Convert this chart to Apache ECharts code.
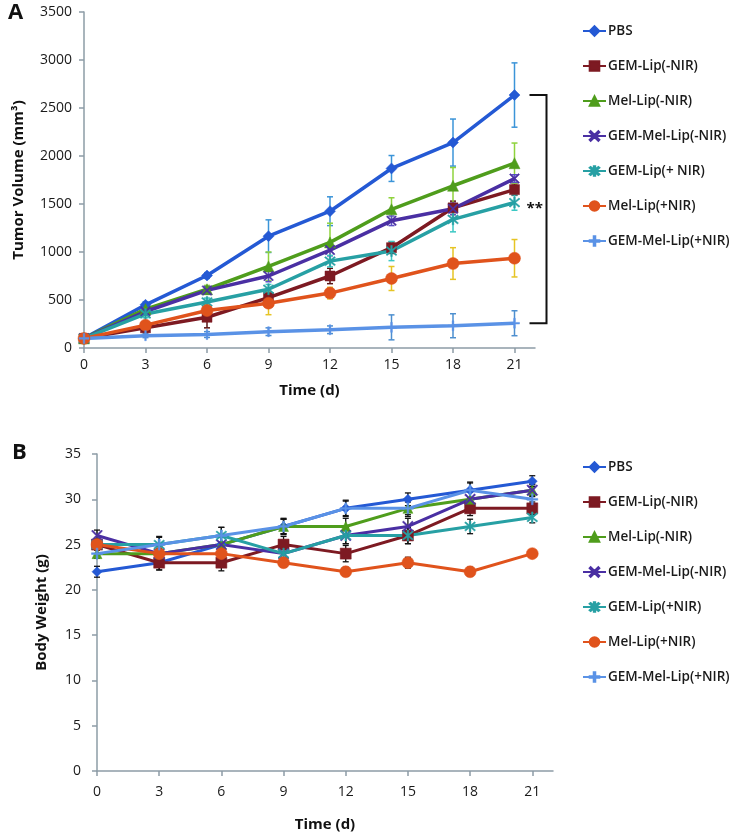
<!DOCTYPE html>
<html>
<head>
<meta charset="utf-8">
<script src="https://cdn.jsdelivr.net/npm/echarts@6/dist/echarts.min.js"></script>
<style>
  html, body { margin: 0; padding: 0; background: #fff; }
  #chartA { width: 740px; height: 418px; }
  #chartB { width: 740px; height: 419px; }
</style>
</head>
<body>
<div id="chartA"></div>
<div id="chartB"></div>
<script>
  // shared
  const days = [0, 3, 6, 9, 12, 15, 18, 21]
  const seriesNames = ['PBS', 'GEM-Lip(-NIR)', 'Mel-Lip(-NIR)', 'GEM-Mel-Lip(-NIR)', 'GEM-Lip(+NIR)', 'Mel-Lip(+NIR)', 'GEM-Mel-Lip(+NIR)']
  const legendLabelsA = ['PBS', 'GEM-Lip(-NIR)', 'Mel-Lip(-NIR)', 'GEM-Mel-Lip(-NIR)', 'GEM-Lip(+ NIR)', 'Mel-Lip(+NIR)', 'GEM-Mel-Lip(+NIR)']
  const xTicks = [0, 3, 6, 9, 12, 15, 18, 21]

  // panel A: tumor volume (mm3)
  const volPBS = [100, 450, 755, 1165, 1425, 1870, 2140, 2635]
  const volGemLip = [100, 210, 320, 525, 750, 1045, 1460, 1650]
  const volMelLip = [100, 405, 612, 850, 1100, 1445, 1690, 1925]
  const volGemMelLip = [100, 380, 600, 750, 1020, 1325, 1450, 1765]
  const volGemLipNir = [100, 355, 480, 612, 905, 1010, 1340, 1515]
  const volMelLipNir = [100, 238, 390, 467, 572, 724, 880, 935]
  const volGemMelLipNir = [100, 128, 140, 170, 190, 215, 232, 258]

  const errPBS = [0, 30, 30, 170, 150, 135, 245, 335]
  const errGemLip = [0, 40, 110, 60, 80, 60, 70, 60]
  const errMelLip = [0, 40, 40, 150, 200, 120, 190, 210]
  const errGemMelLip = [0, 40, 40, 60, 60, 50, 60, 40]
  const errGemLipNir = [0, 40, 40, 50, 60, 100, 130, 80]
  const errMelLipNir = [0, 30, 60, 120, 60, 125, 165, 195]
  const errGemMelLipNir = [0, 20, 30, 40, 40, 130, 125, 130]
  const volTicks = [0, 500, 1000, 1500, 2000, 2500, 3000, 3500]

  // panel B: body weight (g)
  const bwPBS = [22, 23, 25, 27, 29, 30, 31, 32]
  const bwGemLip = [25, 23, 23, 25, 24, 26, 29, 29]
  const bwMelLip = [24, 24, 25, 27, 27, 29, 30, 31]
  const bwGemMelLip = [26, 24, 25, 24, 26, 27, 30, 31]
  const bwGemLipNir = [25, 25, 26, 24, 26, 26, 27, 28]
  const bwMelLipNir = [25, 24, 24, 23, 22, 23, 22, 24]
  const bwGemMelLipNir = [24, 25, 26, 27, 29, 29, 31, 30]

  const bwErrPBS = [0.6, 0.8, 0.8, 0.8, 0.8, 0.7, 0.9, 0.6]
  const bwErrGemLip = [0.6, 0.8, 0.9, 0.9, 0.9, 0.9, 0.8, 0.7]
  const bwErrMelLip = [0.5, 0.8, 0.9, 0.9, 0.9, 0.9, 0.9, 0.6]
  const bwErrGemMelLip = [0.6, 0.8, 0.8, 0.8, 0.9, 0.9, 0.8, 0.7]
  const bwErrGemLipNir = [0.6, 0.9, 0.9, 0.6, 0.9, 0.9, 0.8, 0.6]
  const bwErrMelLipNir = [0.5, 0.6, 0.6, 0.5, 0.5, 0.6, 0.5, 0.4]
  const bwErrGemMelLipNir = [0.5, 0.8, 0.9, 0.8, 0.9, 0.7, 0.8, 0.7]
  const bwTicks = [0, 5, 10, 15, 20, 25, 30, 35]

  const colors = ['#2459d4', '#7d1a22', '#4f9d1c', '#4a2fa3', '#27a0a4', '#e0531c', '#5a92e6']
  const errColorsA = ['#3b94d8', '#5a1414', '#8fd33c', '#5b4fc4', '#3cc8c4', '#e6c424', '#4d8fcf']
  const symbols = [
    'diamond',
    'rect',
    'triangle',
    'path://M0,1L1,0L5,4L9,0L10,1L6,5L10,9L9,10L5,6L1,10L0,9L4,5Z',
    'path://M0,1L1,0L5,4L9,0L10,1L6,5L10,9L9,10L5,6L1,10L0,9L4,5Z M4.3,-1L5.7,-1L5.7,11L4.3,11Z',
    'circle',
    'path://M4.2,0H5.8V4.2H10V5.8H5.8V10H4.2V5.8H0V4.2H4.2Z'
  ]
  const symbolSizesA = [11, 10, 11, 10, 11, 12, 10]
  const symbolSizesB = [10, 11, 10, 11, 11, 12, 11]

  const volData = [volPBS, volGemLip, volMelLip, volGemMelLip, volGemLipNir, volMelLipNir, volGemMelLipNir]
  const volErr = [errPBS, errGemLip, errMelLip, errGemMelLip, errGemLipNir, errMelLipNir, errGemMelLipNir]
  const bwData = [bwPBS, bwGemLip, bwMelLip, bwGemMelLip, bwGemLipNir, bwMelLipNir, bwGemMelLipNir]
  const bwErr = [bwErrPBS, bwErrGemLip, bwErrMelLip, bwErrGemMelLip, bwErrGemLipNir, bwErrMelLipNir, bwErrGemMelLipNir]

  const fontFamily = 'Open Sans'
  const axisColor = '#8d9ca6'

  function errorSeries (vals, errs, color, width) {
    return {
      type: 'custom',
      silent: true,
      z: 1,
      data: days.map((d, i) => [d, vals[i] - errs[i], vals[i] + errs[i]]),
      renderItem: function (params, api) {
        const lo = api.coord([api.value(0), api.value(1)])
        const hi = api.coord([api.value(0), api.value(2)])
        const cap = 3
        const style = { stroke: color, lineWidth: width }
        return {
          type: 'group',
          children: [
            { type: 'line', shape: { x1: hi[0], y1: hi[1], x2: lo[0], y2: lo[1] }, style: style },
            { type: 'line', shape: { x1: hi[0] - cap, y1: hi[1], x2: hi[0] + cap, y2: hi[1] }, style: style },
            { type: 'line', shape: { x1: lo[0] - cap, y1: lo[1], x2: lo[0] + cap, y2: lo[1] }, style: style }
          ]
        }
      }
    }
  }

  function lineSeries (i, vals, size, width) {
    return {
      name: seriesNames[i],
      type: 'line',
      z: 3,
      data: days.map((d, k) => [d, vals[k]]),
      symbol: symbols[i],
      symbolSize: size,
      showAllSymbol: true,
      color: colors[i],
      lineStyle: { width: width, color: colors[i] },
      itemStyle: { color: colors[i], borderColor: colors[i], borderWidth: 0.5 }
    }
  }

  function xAxisOpt () {
    return {
      type: 'value',
      min: 0,
      max: 22,
      name: 'Time (d)',
      nameLocation: 'middle',
      nameTextStyle: { fontFamily: fontFamily, fontWeight: 'bold', fontSize: 15, color: '#111' },
      axisLine: { lineStyle: { color: axisColor, width: 1.5 } },
      axisTick: { customValues: xTicks, length: 5, lineStyle: { color: axisColor, width: 1.5 } },
      axisLabel: { customValues: xTicks, fontFamily: fontFamily, fontSize: 14, color: '#1a1a1a', margin: 10 },
      splitLine: { show: false }
    }
  }

  function yAxisOpt (name, ticks, max, interval) {
    return {
      type: 'value',
      min: 0,
      max: max,
      interval: interval,
      name: name,
      nameLocation: 'middle',
      nameRotate: 90,
      nameTextStyle: { fontFamily: fontFamily, fontWeight: 'bold', fontSize: 15, color: '#111' },
      axisLine: { show: true, lineStyle: { color: axisColor, width: 1.5 } },
      axisTick: { show: true, customValues: ticks, length: 5, lineStyle: { color: axisColor, width: 1.5 } },
      axisLabel: {
        customValues: ticks,
        fontFamily: fontFamily,
        fontSize: 14,
        color: '#1a1a1a',
        formatter: function (val) { return String(val) }
      },
      splitLine: { show: false }
    }
  }

  function legendOpt (top, labels) {
    return {
      orient: 'vertical',
      left: 577,
      top: top,
      itemWidth: 23,
      itemHeight: 12,
      itemGap: 21,
      data: seriesNames,
      formatter: function (name) { return labels[seriesNames.indexOf(name)] },
      textStyle: { fontFamily: fontFamily, fontSize: 13.5, fontWeight: 600, color: '#1a1a1a', padding: [0, 0, 0, -3] }
    }
  }

  // ---- panel A ----
  let chartA = echarts.init(document.getElementById('chartA'))
  let seriesA = []
  volData.forEach((v, i) => seriesA.push(errorSeries(v, volErr[i], errColorsA[i], 1.5)))
  volData.forEach((v, i) => seriesA.push(lineSeries(i, v, symbolSizesA[i], 3.5)))
  let xA = xAxisOpt()
  xA.nameGap = 35
  let yA = yAxisOpt('Tumor Volume (mm³)', volTicks, 3500, 500)
  yA.nameGap = 58
  yA.axisLabel.margin = 12
  chartA.setOption({
    animation: false,
    grid: { left: 84, top: 12, width: 451, height: 336 },
    legend: legendOpt(19, legendLabelsA),
    xAxis: xA,
    yAxis: yA,
    series: seriesA
  })

  // significance bracket between PBS and GEM-Mel-Lip(+NIR) on day 21
  let lastDay = days[days.length - 1]
  let pTop = chartA.convertToPixel({ gridIndex: 0 }, [lastDay, volPBS[volPBS.length - 1]])
  let pBot = chartA.convertToPixel({ gridIndex: 0 }, [lastDay, volGemMelLipNir[volGemMelLipNir.length - 1]])
  let bx = pTop[0] + 32
  chartA.setOption({
    graphic: [
      { type: 'text', left: 8, top: 2, style: { text: 'A', font: 'bold 22px ' + fontFamily, fill: '#111' } },
      {
        type: 'polyline',
        shape: { points: [[pTop[0] + 15, pTop[1]], [bx, pTop[1]], [bx, pBot[1]], [pTop[0] + 15, pBot[1]]] },
        style: { stroke: '#111', lineWidth: 2, fill: null }
      },
      {
        type: 'text',
        x: bx - 20,
        y: (pTop[1] + pBot[1]) / 2 - 8,
        style: { text: '**', font: 'bold 15px ' + fontFamily, fill: '#111' }
      }
    ]
  })

  // ---- panel B ----
  let chartB = echarts.init(document.getElementById('chartB'))
  let seriesB = []
  bwData.forEach((v, i) => seriesB.push(errorSeries(v, bwErr[i], '#111', 1.3)))
  bwData.forEach((v, i) => seriesB.push(lineSeries(i, v, symbolSizesB[i], 3)))
  let xB = xAxisOpt()
  xB.nameGap = 46
  xB.axisLabel.margin = 14
  let yB = yAxisOpt('Body Weight (g)', bwTicks, 35, 5)
  yB.nameGap = 48
  yB.axisLabel.margin = 16
  chartB.setOption({
    animation: false,
    grid: { left: 97, top: 36, width: 456, height: 318 },
    legend: legendOpt(37, seriesNames),
    xAxis: xB,
    yAxis: yB,
    series: seriesB,
    graphic: [
      { type: 'text', left: 12, top: 24, style: { text: 'B', font: 'bold 22px ' + fontFamily, fill: '#111' } }
    ]
  })
</script>
</body>
</html>
